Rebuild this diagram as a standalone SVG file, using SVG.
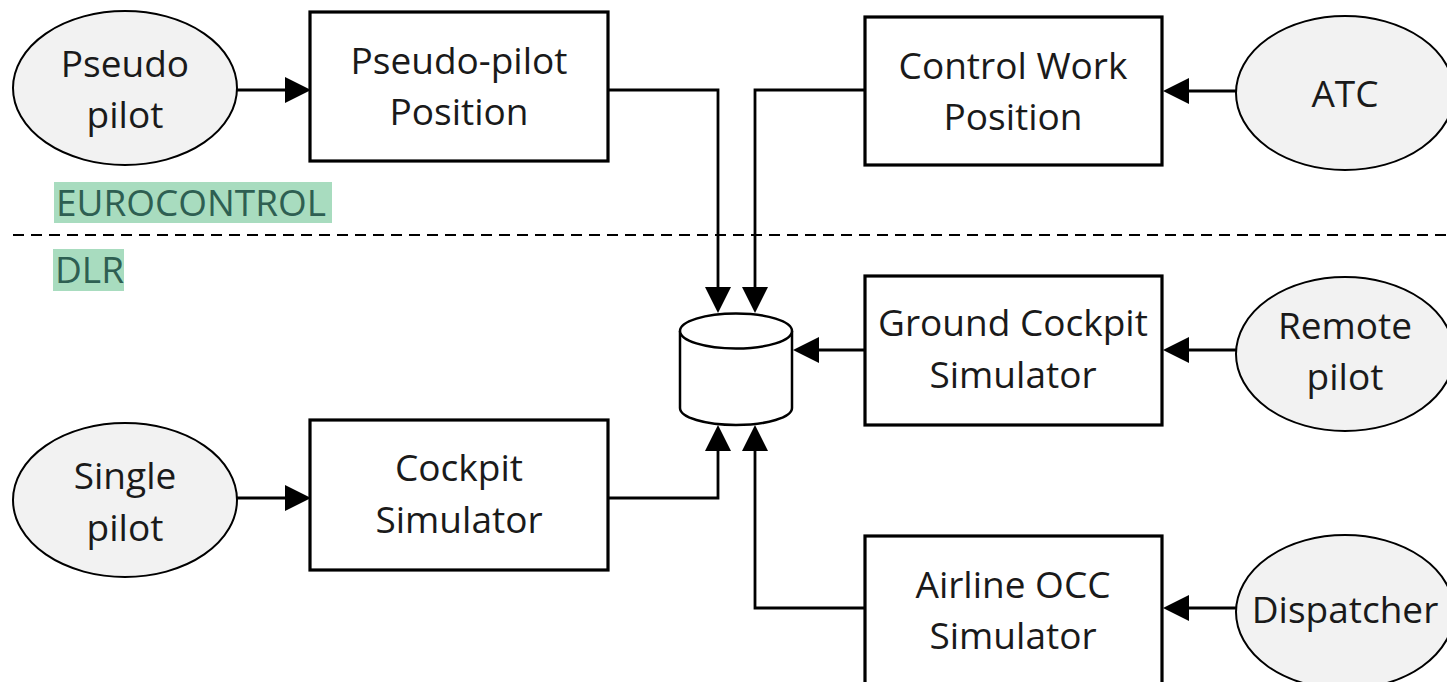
<svg xmlns="http://www.w3.org/2000/svg" width="1447" height="682" viewBox="0 0 1447 682">
<defs>
<style>
.box{fill:#fff;stroke:#000;stroke-width:3.2}
.ell{fill:#f2f2f2;stroke:#000;stroke-width:2}
.t{font-family:"Open Sans","Liberation Sans",sans-serif;font-size:37px;fill:#1a1a1a;text-anchor:middle}
.lbl{font-family:"Open Sans","Liberation Sans",sans-serif;font-size:37px;fill:#2e5f52}
.hl{fill:#a8dcbf}
.c{fill:none;stroke:#000;stroke-width:2.8}
.h{fill:#000}
</style>
</defs>
<rect width="1447" height="682" fill="#fff"/>

<g id="divider">
<line x1="13" y1="235" x2="1447" y2="235" stroke="#000" stroke-width="2" stroke-dasharray="11,7"/>
<rect class="hl" x="54" y="182" width="278" height="41"/>
<text class="lbl" x="56" y="216" textLength="270" lengthAdjust="spacingAndGlyphs">EUROCONTROL</text>
<rect class="hl" x="53" y="249" width="71" height="42"/>
<text class="lbl" x="55" y="283">DLR</text>
</g>

<g id="connectors">
<path class="c" d="M237,90 H290"/>
<path class="h" d="M285,77 L311,90 L285,103 z"/>
<path class="c" d="M1236,91 H1180"/>
<path class="h" d="M1189,78 L1163,91 L1189,104 z"/>
<path class="c" d="M1237,350 H1180"/>
<path class="h" d="M1189,337 L1163,350 L1189,363 z"/>
<path class="c" d="M1237,608 H1180"/>
<path class="h" d="M1189,595 L1163,608 L1189,621 z"/>
<path class="c" d="M237,498 H290"/>
<path class="h" d="M285,485 L311,498 L285,511 z"/>
<path class="c" d="M608,90 H718 V295"/>
<path class="h" d="M705,287 L718,313 L731,287 z"/>
<path class="c" d="M865,90 H755 V295"/>
<path class="h" d="M742,287 L755,313 L768,287 z"/>
<path class="c" d="M865,350 H810"/>
<path class="h" d="M819,337 L793,350 L819,363 z"/>
<path class="c" d="M608,498 H718 V440"/>
<path class="h" d="M705,451 L718,425 L731,451 z"/>
<path class="c" d="M865,608 H755 V440"/>
<path class="h" d="M742,451 L755,425 L768,451 z"/>
</g>

<g id="pseudo-pilot">
<ellipse class="ell" cx="125" cy="88" rx="112" ry="77"/>
<text class="t" x="125" y="77">Pseudo</text>
<text class="t" x="125" y="128">pilot</text>
</g>
<g id="pseudo-pilot-position">
<rect class="box" x="310" y="12" width="298" height="149"/>
<text class="t" x="459" y="74">Pseudo-pilot</text>
<text class="t" x="459" y="125">Position</text>
</g>
<g id="control-work-position">
<rect class="box" x="865" y="17" width="297" height="148"/>
<text class="t" x="1013" y="79">Control Work</text>
<text class="t" x="1013" y="130">Position</text>
</g>
<g id="atc">
<ellipse class="ell" cx="1345" cy="93" rx="109" ry="77"/>
<text class="t" x="1345" y="107">ATC</text>
</g>
<g id="database">
<path d="M680,331 V408 A56,17 0 0 0 792,408 V331" fill="#fff" stroke="#000" stroke-width="2.5"/>
<ellipse cx="736" cy="331" rx="56" ry="17.5" fill="#fff" stroke="#000" stroke-width="2.5"/>
</g>
<g id="ground-cockpit-simulator">
<rect class="box" x="865" y="276" width="297" height="149"/>
<text class="t" x="1013" y="336">Ground Cockpit</text>
<text class="t" x="1013" y="388">Simulator</text>
</g>
<g id="remote-pilot">
<ellipse class="ell" cx="1345" cy="354" rx="109" ry="77"/>
<text class="t" x="1345" y="339">Remote</text>
<text class="t" x="1345" y="390">pilot</text>
</g>
<g id="single-pilot">
<ellipse class="ell" cx="125" cy="500" rx="112" ry="77"/>
<text class="t" x="125" y="489">Single</text>
<text class="t" x="125" y="541">pilot</text>
</g>
<g id="cockpit-simulator">
<rect class="box" x="310" y="420" width="298" height="150"/>
<text class="t" x="459" y="481">Cockpit</text>
<text class="t" x="459" y="533">Simulator</text>
</g>
<g id="airline-occ-simulator">
<rect class="box" x="865" y="536" width="297" height="160"/>
<text class="t" x="1013" y="598">Airline OCC</text>
<text class="t" x="1013" y="649">Simulator</text>
</g>
<g id="dispatcher">
<ellipse class="ell" cx="1345" cy="612" rx="109" ry="77"/>
<text class="t" x="1345" y="623">Dispatcher</text>
</g>
</svg>
